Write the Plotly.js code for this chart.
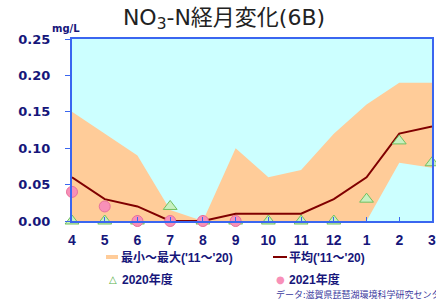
<!DOCTYPE html>
<html><head><meta charset="utf-8">
<script src="https://cdn.plot.ly/plotly-3.0.1.min.js"></script>
<style>html,body{margin:0;padding:0;background:#fff;}#c{width:436px;height:302px;}</style>
</head><body><div id="c"></div>
<script>
const months = ['4','5','6','7','8','9','10','11','12','1','2','3'];
const maxVals = [0.15,0.12,0.09,0.015,0.0,0.10,0.06,0.07,0.12,0.16,0.19,0.19];
const minVals = [0,0,0,0,0,0,0,0,0,0,0.08,0.073];
const meanVals = [0.06,0.03,0.02,0.0,0.0,0.01,0.01,0.01,0.03,0.06,0.12,0.13];
const y2020 = [0,0,0,0.02,0,0,0,0,0,0.03,0.11,0.08];
const y2021 = [0.04,0.02,0,0,0,0,null,null,null,null,null,null];
const legendLabels = ["最小～最大('11～'20)", "平均('11～'20)", '2020年度', '2021年度'];

const navy = '#16167a';
const fontF = 'Liberation Sans, Arial, Noto Sans CJK JP, sans-serif';
const orange = '#ffcc99';
const traces = [
  {x: months, y: minVals, type:'scatter', mode:'lines', line:{width:0, color:orange}, showlegend:false, hoverinfo:'skip'},
  {x: months, y: maxVals, type:'scatter', mode:'lines', fill:'tonexty', fillcolor:orange, line:{width:0, color:orange}, showlegend:false},
  {x: months, y: meanVals, type:'scatter', mode:'lines', line:{width:2, color:'#800000'}, showlegend:false},
  {x: months, y: y2020, type:'scatter', mode:'markers', marker:{symbol:'triangle-up', size:12, color:'#c8f0c0', line:{color:'#70c060', width:1}}, showlegend:false, cliponaxis:false},
  {x: months, y: y2021, type:'scatter', mode:'markers', marker:{symbol:'circle', size:11, color:'#f890b8', line:{color:'#e8709c', width:1}}, showlegend:false, cliponaxis:false}
];
const px = v => (v-72)/360;
const py = v => (221-v)/182;
const layout = {
  width:436, height:302,
  margin:{l:72, r:4, t:39, b:81},
  paper_bgcolor:'#ffffff', plot_bgcolor:'#ccffff',
  font:{family:fontF, color:navy},
  title:{text:'NO<sub>3</sub>-N経月変化(6B)', x:224/436, xanchor:'center', y:1-17/302, yanchor:'middle', font:{size:22, color:'#222', family:'DejaVu Sans, Noto Sans CJK JP, sans-serif'}},
  xaxis:{type:'category', range:[0,11], showgrid:false, zeroline:false, showline:true, linecolor:'#3a66f0', linewidth:2, mirror:true,
    ticks:'inside', ticklen:4, tickcolor:'#3a66f0', tickfont:{size:14, color:navy, family:fontF, weight:'bold'}, ticklabelstandoff:5},
  yaxis:{range:[0,0.25], dtick:0.05, tickformat:'.2f', showgrid:false, zeroline:false, showline:true, linecolor:'#3a66f0', linewidth:2, mirror:true,
    ticks:'outside', ticklen:5, tickcolor:'#3a66f0', tickfont:{size:13, color:navy, family:'DejaVu Sans, sans-serif', weight:'bold'}, ticklabelstandoff:12},
  showlegend:false,
  shapes:[
    {type:'rect', xref:'paper', yref:'paper', x0:px(106), x1:px(118), y0:py(259), y1:py(255), fillcolor:orange, line:{width:0}},
    {type:'line', xref:'paper', yref:'paper', x0:px(273), x1:px(287), y0:py(257), y1:py(257), line:{color:'#800000', width:2}}
  ],
  annotations:[
    {text:'mg/L', xref:'paper', yref:'paper', x:px(66), y:py(28), xanchor:'center', yanchor:'middle', showarrow:false, font:{size:10, color:navy, family:'DejaVu Sans, sans-serif', weight:'bold'}},
    {text:legendLabels[0], xref:'paper', yref:'paper', x:px(119), y:py(257), xanchor:'left', yanchor:'middle', showarrow:false, font:{size:12, color:navy, family:fontF, weight:'bold'}},
    {text:legendLabels[1], xref:'paper', yref:'paper', x:px(287), y:py(257), xanchor:'left', yanchor:'middle', showarrow:false, font:{size:12, color:navy, family:fontF, weight:'bold'}},
    {text:'△', xref:'paper', yref:'paper', x:px(112.5), y:py(279), xanchor:'center', yanchor:'middle', showarrow:false, font:{size:10, color:'#58b048', family:'DejaVu Sans, sans-serif'}},
    {text:legendLabels[2], xref:'paper', yref:'paper', x:px(120), y:py(279), xanchor:'left', yanchor:'middle', showarrow:false, font:{size:12, color:navy, family:fontF, weight:'bold'}},
    {text:'●', xref:'paper', yref:'paper', x:px(280.5), y:py(279), xanchor:'center', yanchor:'middle', showarrow:false, font:{size:10, color:'#f890b8', family:'DejaVu Sans, sans-serif'}},
    {text:legendLabels[3], xref:'paper', yref:'paper', x:px(287), y:py(279), xanchor:'left', yanchor:'middle', showarrow:false, font:{size:12, color:navy, family:fontF, weight:'bold'}},
    {text:'データ:滋賀県琵琶湖環境科学研究センター', xref:'paper', yref:'paper', x:px(274), y:py(294), xanchor:'left', yanchor:'middle', showarrow:false, font:{size:9, color:'#3c3ca0', family:'Noto Sans CJK JP, sans-serif'}}
  ]
};
Plotly.newPlot('c', traces, layout, {displayModeBar:false, staticPlot:true});
</script></body></html>
